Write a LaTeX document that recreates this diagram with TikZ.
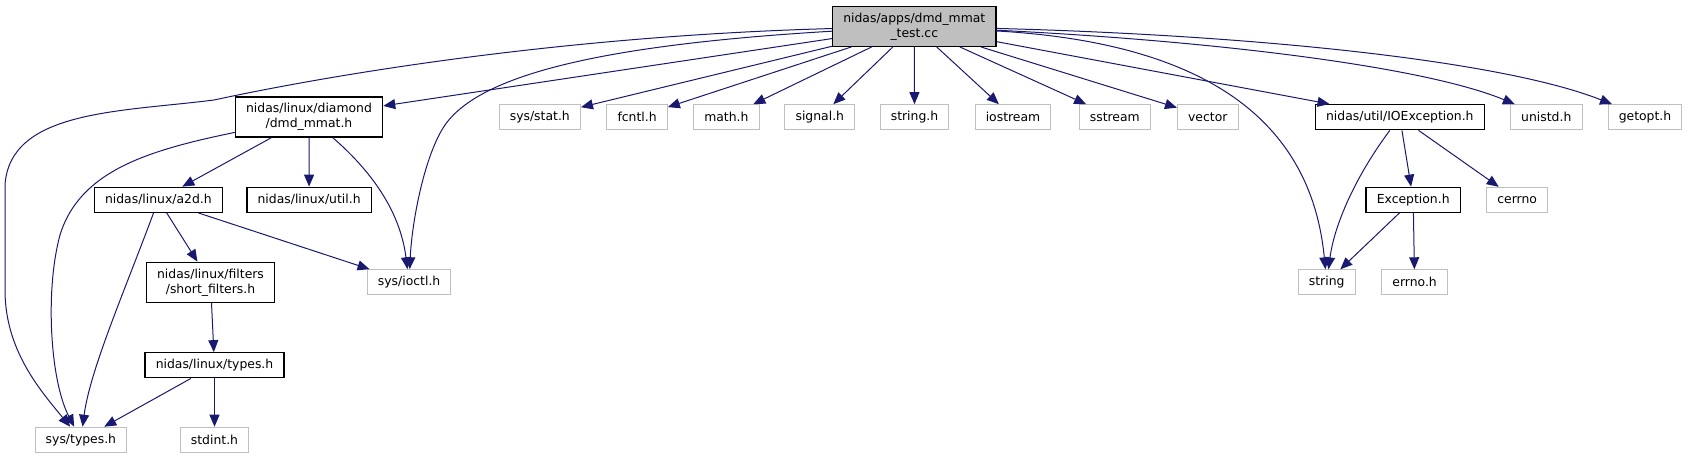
\documentclass[tikz,border=0pt]{standalone}
\usepackage{fontspec}
\setmainfont{DejaVu Sans}
\usepackage{tikz}
\usetikzlibrary{arrows.meta}
\definecolor{rootFill}{HTML}{BFBFBF}
\definecolor{docLine}{HTML}{000000}
\definecolor{extLine}{HTML}{BFBFBF}
\definecolor{depBlue}{HTML}{191970}
\tikzset{
  incnode/.style 2 args={rectangle, draw=#1, fill=#2, line width=1pt, align=center, font=\fontsize{9.3}{11.25}\selectfont, minimum height=18.75pt, inner xsep=8pt, inner ysep=2pt},
  rootnode/.style={incnode={docLine}{rootFill}},
  docnode/.style={incnode={docLine}{white}},
  extnode/.style={incnode={extLine}{white}, line width=0.75pt},
  twoline/.style={minimum height=30pt},
  deparrow/.style={-{Triangle[length=9pt,width=7.5pt]}, line width=0.75pt, draw=depBlue},
}

\begin{document}
\begin{tikzpicture}[x=0.75pt,y=-0.75pt]
  \useasboundingbox (0,0) rectangle (1688,459);

  % ---------- source file ----------
  \node[rootnode, twoline] (root) at (914.3,26.3) {nidas/apps/dmd\_mmat\\\_test.cc};

  % ---------- first level includes ----------
  \node[docnode, twoline] (dmd)  at (309,117)      {nidas/linux/diamond\\/dmd\_mmat.h};
  \node[extnode] (sysstat)   at (539.8,117.2)  {sys/stat.h};
  \node[extnode] (fcntl)     at (637.1,117.2)  {fcntl.h};
  \node[extnode] (math)      at (726.4,117.2)  {math.h};
  \node[extnode] (signal)    at (819.8,117.2)  {signal.h};
  \node[extnode] (stringh)   at (914.5,117.2)  {string.h};
  \node[extnode] (iostream)  at (1013,117.2)   {iostream};
  \node[extnode] (sstream)   at (1114.8,117.2) {sstream};
  \node[extnode] (vector)    at (1207.8,117.2) {vector};
  \node[docnode] (ioexc)     at (1399.8,117.2) {nidas/util/IOException.h};
  \node[extnode] (unistd)    at (1546.3,117.2) {unistd.h};
  \node[extnode] (getopt)    at (1645,117.2)   {getopt.h};

  % ---------- second level ----------
  \node[docnode] (a2d)    at (158.4,199.8)  {nidas/linux/a2d.h};
  \node[docnode] (util)   at (309.1,199.8)  {nidas/linux/util.h};
  \node[docnode] (exc)    at (1413.2,199.8) {Exception.h};
  \node[extnode] (cerrno) at (1517.2,199.8) {cerrno};

  % ---------- third level ----------
  \node[docnode, twoline] (filters) at (210.5,282.3) {nidas/linux/filters\\/short\_filters.h};
  \node[extnode] (ioctl)  at (409.1,282.2)  {sys/ioctl.h};
  \node[extnode] (string) at (1326.7,282.3) {string};
  \node[extnode] (errno)  at (1414.6,282.3) {errno.h};

  % ---------- bottom levels ----------
  \node[docnode] (ltypes)   at (214.5,365.3) {nidas/linux/types.h};
  \node[extnode] (systypes) at (80.9,439.7)  {sys/types.h};
  \node[extnode] (stdint)   at (214.5,439.7) {stdint.h};

  % ---------- from the source file ----------
  \draw[deparrow] (root) .. controls (560,36) and (330,75) .. (214,100) .. controls (120,112) and (10,110) .. (5,185) -- (5,290) .. controls (5,350) and (40,390) .. (systypes);
  \draw[deparrow] (root) -- (dmd);
  \draw[deparrow] (root) .. controls (600,45) and (480,75) .. (445,125) .. controls (425,154) and (412,220) .. (ioctl);
  \draw[deparrow] (root) -- (sysstat);
  \draw[deparrow] (root) -- (fcntl);
  \draw[deparrow] (root) -- (math);
  \draw[deparrow] (root) -- (signal);
  \draw[deparrow] (root) -- (stringh);
  \draw[deparrow] (root) -- (iostream);
  \draw[deparrow] (root) -- (sstream);
  \draw[deparrow] (root) -- (vector);
  \draw[deparrow] (root) -- (ioexc);
  \draw[deparrow] (root) .. controls (1190,42) and (1310,110) .. (string);
  \draw[deparrow] (root) .. controls (1200,40) and (1420,65) .. (unistd);
  \draw[deparrow] (root) .. controls (1250,35) and (1500,60) .. (getopt);

  % ---------- diamond header ----------
  \draw[deparrow] (dmd) -- (a2d);
  \draw[deparrow] (dmd) -- (util);
  \draw[deparrow] (dmd) .. controls (150,150) and (80,170) .. (60,235) .. controls (45,290) and (50,380) .. (systypes);
  \draw[deparrow] (dmd) .. controls (370,170) and (400,210) .. (ioctl);

  % ---------- a2d and filters ----------
  \draw[deparrow] (a2d) .. controls (125,290) and (90,370) .. (systypes);
  \draw[deparrow] (a2d) -- (filters);
  \draw[deparrow] (a2d) -- (ioctl);
  \draw[deparrow] (filters) -- (ltypes);
  \draw[deparrow] (ltypes) -- (systypes);
  \draw[deparrow] (ltypes) -- (stdint);

  % ---------- exceptions ----------
  \draw[deparrow] (ioexc) .. controls (1360,170) and (1335,220) .. (string);
  \draw[deparrow] (ioexc) -- (exc);
  \draw[deparrow] (ioexc) -- (cerrno);
  \draw[deparrow] (exc) -- (string);
  \draw[deparrow] (exc) -- (errno);

\end{tikzpicture}
\end{document}
